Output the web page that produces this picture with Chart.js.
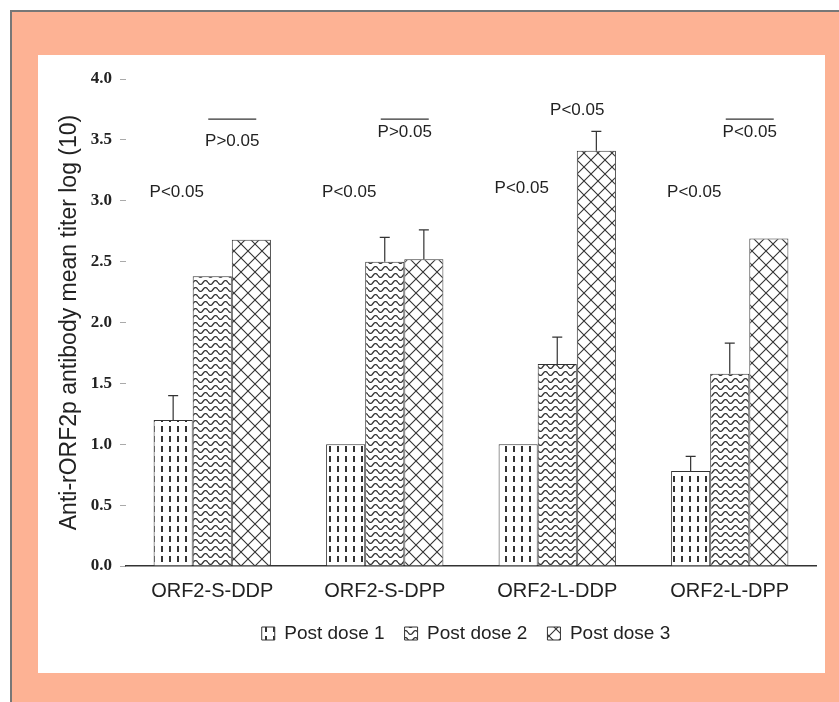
<!DOCTYPE html>
<html>
<head>
<meta charset="utf-8">
<script src="https://cdn.jsdelivr.net/npm/chart.js@4.4.1/dist/chart.umd.min.js"></script>
<style>
  body { margin: 0; background: #fff; width: 839px; height: 702px; overflow: hidden; position: relative; }
  #frame { position: absolute; left: 10px; top: 10px; width: 829px; height: 692px; background: #fdb294;
           border-left: 2px solid #777; border-top: 2px solid #777; }
  #panel { position: absolute; left: 38px; top: 55px; width: 787px; height: 618px; background: #fff; }
</style>
</head>
<body>
<div id="frame"></div>
<div id="panel"><canvas id="Chart" width="787" height="618"></canvas></div>
<script>
// data
const groupes = ['ORF2-S-DDP', 'ORF2-S-DPP', 'ORF2-L-DDP', 'ORF2-L-DPP'];
const dose1 = [1.2, 1.0, 1.0, 0.78];
const dose2 = [2.38, 2.5, 1.66, 1.58];
const dose3 = [2.68, 2.52, 3.41, 2.69];
const err1 = [0.2, 0, 0, 0.12];
const err2 = [0, 0.2, 0.22, 0.25];
const err3 = [0, 0.24, 0.16, 0];
const pBas = ['P<0.05', 'P<0.05', 'P<0.05', 'P<0.05'];
const pHaut = ['P>0.05', 'P>0.05', 'P<0.05', 'P<0.05'];
const pBarre = [true, true, false, true];

// motifs de remplissage
function motif(type) {
  const c = document.createElement('canvas');
  const g = c.getContext('2d');
  if (type === 'tirets') {
    c.width = 8; c.height = 10;
    g.fillStyle = '#fff'; g.fillRect(0, 0, 8, 10);
    g.fillStyle = '#333'; g.fillRect(3, 1, 2, 6);
  } else if (type === 'vagues') {
    c.width = 10; c.height = 7;
    g.fillStyle = '#fff'; g.fillRect(0, 0, 10, 7);
    g.strokeStyle = '#333'; g.lineWidth = 1.3;
    g.beginPath();
    for (let x = 0; x <= 10; x++) {
      const y = 3.5 + 2 * Math.sin(x / 10 * Math.PI * 2);
      if (x === 0) g.moveTo(x, y); else g.lineTo(x, y);
    }
    g.stroke();
  } else {
    c.width = 14; c.height = 14;
    g.fillStyle = '#fff'; g.fillRect(0, 0, 14, 14);
    g.strokeStyle = '#333'; g.lineWidth = 1.1;
    g.beginPath();
    g.moveTo(0, 0); g.lineTo(14, 14);
    g.moveTo(14, 0); g.lineTo(0, 14);
    g.stroke();
  }
  return document.getElementById('Chart').getContext('2d').createPattern(c, 'repeat');
}

const erreurs = [err1, err2, err3];

const barresErreur = {
  id: 'barresErreur',
  afterDatasetsDraw(chart) {
    const ctx = chart.ctx;
    const y = chart.scales.y;
    ctx.save();
    ctx.strokeStyle = '#333';
    ctx.lineWidth = 1.2;
    chart.data.datasets.forEach((ds, i) => {
      chart.getDatasetMeta(i).data.forEach((bar, j) => {
        const e = erreurs[i][j];
        if (!e) return;
        const haut = y.getPixelForValue(ds.data[j] + e);
        ctx.beginPath();
        ctx.moveTo(bar.x, bar.y);
        ctx.lineTo(bar.x, haut);
        ctx.moveTo(bar.x - 5, haut);
        ctx.lineTo(bar.x + 5, haut);
        ctx.stroke();
      });
    });
    ctx.restore();
  }
};

const valeursP = {
  id: 'valeursP',
  afterDraw(chart) {
    const ctx = chart.ctx;
    const x = chart.scales.x, y = chart.scales.y;
    const m0 = chart.getDatasetMeta(0);
    ctx.save();
    ctx.fillStyle = '#222';
    ctx.strokeStyle = '#333';
    ctx.lineWidth = 1.2;
    ctx.font = '17px Arial, "Liberation Sans"';
    ctx.textBaseline = 'middle';
    const hautY = [3.49, 3.56, 3.74, 3.56];
    groupes.forEach((g, i) => {
      const b = m0.data[i];
      ctx.textAlign = 'left';
      ctx.fillText(pBas[i], b.x - b.width / 2 - 4, y.getPixelForValue(i === 2 ? 3.1 : 3.07));
      const cx = x.getPixelForValue(i) + 20;
      ctx.textAlign = 'center';
      ctx.fillText(pHaut[i], cx, y.getPixelForValue(hautY[i]));
      if (pBarre[i]) {
        const ly = y.getPixelForValue(3.67);
        ctx.beginPath();
        ctx.moveTo(cx - 24, ly);
        ctx.lineTo(cx + 24, ly);
        ctx.stroke();
      }
    });
    ctx.restore();
  }
};

const decaleLegende = {
  id: 'decaleLegende',
  afterLayout(chart) {
    chart.legend.left += 30;
    chart.legend.right += 30;
  }
};

new Chart(document.getElementById('Chart'), {
  type: 'bar',
  data: {
    labels: groupes,
    datasets: [
      { label: 'Post dose 1', data: dose1, backgroundColor: motif('tirets') },
      { label: 'Post dose 2', data: dose2, backgroundColor: motif('vagues') },
      { label: 'Post dose 3', data: dose3, backgroundColor: motif('croix') }
    ]
  },
  options: {
    responsive: false,
    devicePixelRatio: 1,
    animation: false,
    layout: { padding: { left: 18, right: 9, top: 24, bottom: 20 } },
    datasets: {
      bar: { barPercentage: 1, categoryPercentage: 0.68, borderColor: '#333', borderWidth: 1 }
    },
    scales: {
      y: {
        min: 0, max: 4,
        afterFit(s) { s.width = 70; },
        ticks: {
          stepSize: 0.5,
          callback: v => v.toFixed(1),
          color: '#222',
          font: { family: '"Liberation Serif", serif', size: 17, weight: 'bold' },
          padding: 8
        },
        grid: { drawOnChartArea: false, tickLength: 6, color: '#aaa' },
        border: { display: false },
        title: {
          display: true,
          text: 'Anti-rORF2p antibody mean titer log (10)',
          color: '#222',
          font: { family: 'Arial, "Liberation Sans"', size: 23 },
          padding: 0
        }
      },
      x: {
        afterFit(s) { s.height = 38; },
        grid: { display: false },
        border: { color: '#333', width: 1.5 },
        ticks: {
          color: '#222',
          font: { family: 'Arial, "Liberation Sans"', size: 20 },
          padding: 5
        }
      }
    },
    plugins: {
      legend: {
        position: 'bottom',
        labels: {
          boxWidth: 13, boxHeight: 13, padding: 20,
          color: '#222',
          font: { family: 'Arial, "Liberation Sans"', size: 19 }
        }
      },
      tooltip: { enabled: false }
    }
  },
  plugins: [barresErreur, valeursP, decaleLegende]
});
</script>
</body>
</html>
